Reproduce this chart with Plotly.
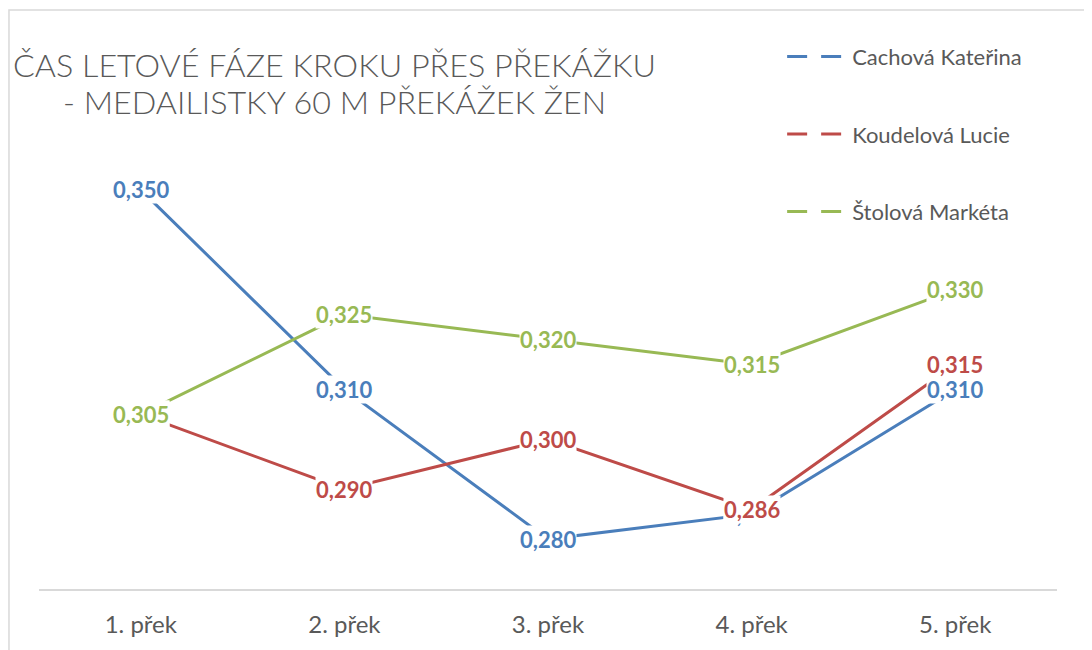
import plotly.graph_objects as go

CATEGORIES = ['1. přek', '2. přek', '3. přek', '4. přek', '5. přek']
CACHOVA = [0.350, 0.310, 0.280, 0.285, 0.310]
KOUDELOVA = [0.305, 0.290, 0.300, 0.286, 0.315]
STOLOVA = [0.305, 0.325, 0.320, 0.315, 0.330]

SERIES = [
    ('Cachová Kateřina', CACHOVA, '#4A7EBB'),
    ('Koudelová Lucie', KOUDELOVA, '#BE4B48'),
    ('Štolová Markéta', STOLOVA, '#98B954'),
]

TITLE_1 = 'ČAS LETOVÉ FÁZE KROKU PŘES PŘEKÁŽKU'
TITLE_2 = '- MEDAILISTKY 60 M PŘEKÁŽEK ŽEN'

GREY = '#595959'
FONT = 'Lato'

fig = go.Figure()
annotations = []

for i, (name, vals, col) in enumerate(SERIES):
    # the real line
    fig.add_trace(go.Scatter(x=CATEGORIES, y=vals, mode='lines', name=name,
                             line=dict(color=col, width=3), showlegend=False))
    # legend entry only (dashed symbol like in excel)
    fig.add_trace(go.Scatter(x=[None], y=[None], mode='lines', name=name,
                             legendgroup=f'g{i}',
                             line=dict(color=col, width=3, dash='20px,14px')))
    for c, v in zip(CATEGORIES, vals):
        annotations.append(dict(x=c, y=v, xref='x', yref='y',
                                text=f'{v:.3f}'.replace('.', ','),
                                showarrow=False, bgcolor='white', borderpad=0,
                                font=dict(family=FONT, size=22, color=col, weight='bold')))

# title as two separate lines so the line spacing can be tight
for txt, ty in [(TITLE_1, 1.168), (TITLE_2, 1.086)]:
    annotations.append(dict(x=0.2898, y=ty, xref='paper', yref='paper',
                            xanchor='center', yanchor='middle', text=txt,
                            showarrow=False,
                            font=dict(family=FONT, size=32.3, color=GREY, weight=300)))

fig.update_layout(
    width=1084, height=642,
    margin=dict(l=31, r=35, t=132, b=58),
    paper_bgcolor='white', plot_bgcolor='white',
    font=dict(family=FONT, color=GREY),
    annotations=annotations,
    showlegend=True,
    legend=dict(x=0.730, y=1.2325, xanchor='left', yanchor='top',
                font=dict(family=FONT, size=22, color=GREY),
                traceorder='grouped', tracegroupgap=46, itemwidth=60,
                bgcolor='rgba(0,0,0,0)'),
    shapes=[dict(type='rect', xref='paper', yref='paper',
                 x0=-0.0295, y0=1.2898, x1=1.2, y1=-0.5,
                 line=dict(color='#D9D9D9', width=1.5), fillcolor='rgba(0,0,0,0)')],
)

fig.update_xaxes(type='category', range=[-0.5, 4.5], showline=True,
                 linecolor='#D9D9D9', linewidth=1.5, showgrid=False, ticks='',
                 tickfont=dict(family=FONT, size=24, color=GREY),
                 ticklabelstandoff=13, zeroline=False)
fig.update_yaxes(range=[0.27, 0.36], visible=False, showgrid=False, zeroline=False)

fig.write_html('out.html')
